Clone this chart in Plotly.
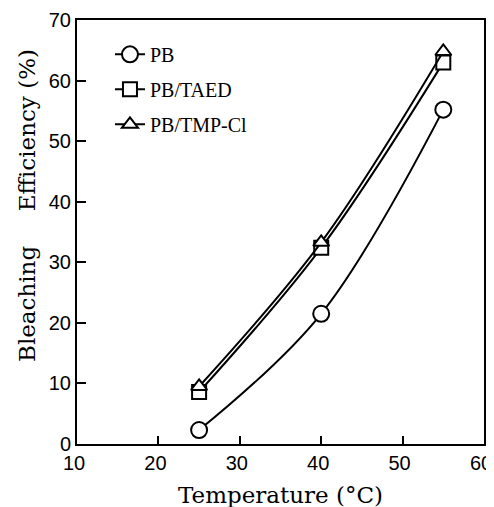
import plotly.graph_objects as go

temperature = [25, 40, 55]
pb = [2.3, 21.5, 55.2]
pb_taed = [8.6, 32.4, 63.0]
pb_tmpcl = [9.5, 33.3, 64.8]

series_names = ["PB", "PB/TAED", "PB/TMP-Cl"]
x_ticks = [10, 20, 30, 40, 50, 60]
y_ticks = [0, 10, 20, 30, 40, 50, 60, 70]

serif = "Liberation Serif, Times New Roman, serif"
title_serif = "DejaVu Serif, serif"
sans = "Liberation Sans, Arial, sans-serif"

fig = go.Figure()
styles = [
    (pb, "circle", 16),
    (pb_taed, "square", 14),
    (pb_tmpcl, "triangle-up", 14),
]
for i, (vals, sym, size) in enumerate(styles):
    fig.add_trace(go.Scatter(
        x=temperature, y=vals, name=series_names[i],
        mode="lines+markers",
        line=dict(color="black", width=2, shape="spline", smoothing=1),
        marker=dict(symbol=sym, size=size, color="white",
                    line=dict(color="black", width=2)),
        legendgroup=f"g{i}",
    ))

fig.update_layout(
    width=494, height=507,
    margin=dict(l=69, r=18, t=12, b=71, autoexpand=False),
    paper_bgcolor="white", plot_bgcolor="white",
    showlegend=True,
    legend=dict(x=0.081, y=0.965, xanchor="left", yanchor="top",
                font=dict(family=serif, size=20, color="black"),
                bgcolor="rgba(0,0,0,0)", tracegroupgap=6,
                traceorder="grouped"),
    xaxis=dict(range=[10, 60], tickvals=x_ticks, ticks="inside", ticklen=8,
               tickwidth=2, tickcolor="black", showline=True, linewidth=2,
               linecolor="black", mirror=True, showgrid=False, zeroline=False,
               automargin=False, ticklabelshift=-3,
               tickfont=dict(family=sans, size=20, color="black")),
    yaxis=dict(range=[0, 70], tickvals=y_ticks, ticks="inside", ticklen=9,
               tickwidth=2, tickcolor="black", showline=True, linewidth=2,
               linecolor="black", mirror=True, showgrid=False, zeroline=False,
               automargin=False,
               tickfont=dict(family=sans, size=20, color="black")),
    annotations=[
        dict(text="Temperature (°C)", xref="paper", yref="paper",
             x=0.5, y=-0.12, xanchor="center", yanchor="middle",
             showarrow=False, font=dict(family=title_serif, size=23, color="black")),
        dict(text="Bleaching", xref="paper", yref="paper",
             x=-0.123, y=0.33, xanchor="center", yanchor="middle",
             textangle=-90, showarrow=False,
             font=dict(family=title_serif, size=23, color="black")),
        dict(text="Efficiency (%)", xref="paper", yref="paper",
             x=-0.123, y=0.74, xanchor="center", yanchor="middle",
             textangle=-90, showarrow=False,
             font=dict(family=title_serif, size=23, color="black")),
    ],
)

fig.write_html("out.html")
